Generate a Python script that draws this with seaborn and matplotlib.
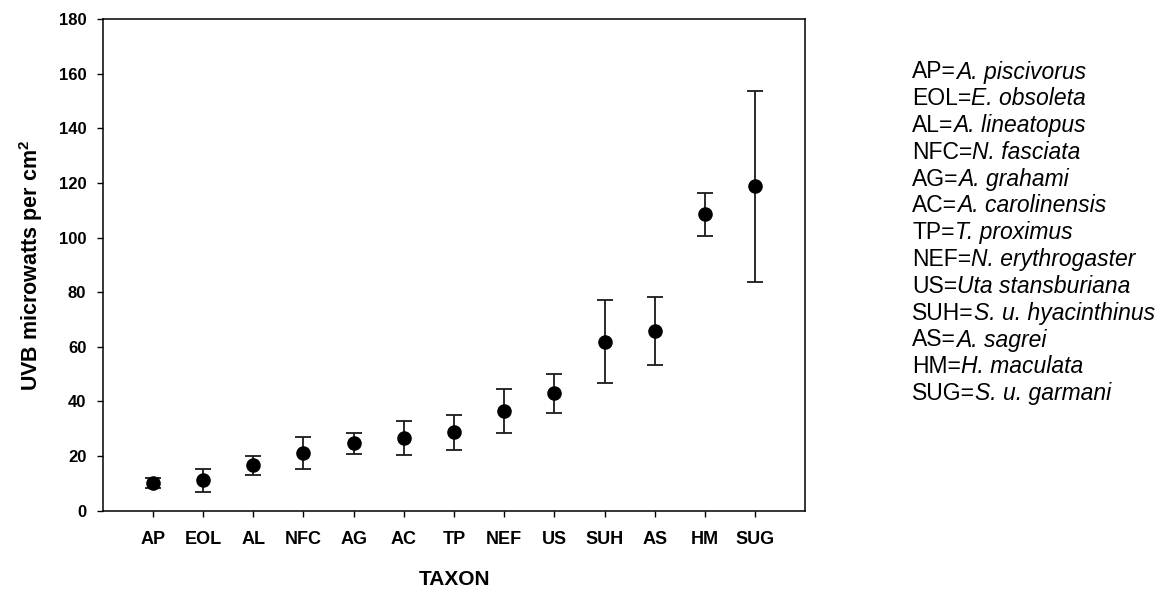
import numpy as np
import pandas as pd
import seaborn as sns
import matplotlib.pyplot as plt

taxa = ["AP", "EOL", "AL", "NFC", "AG", "AC", "TP", "NEF", "US", "SUH", "AS", "HM", "SUG"]
uvb_mean = [10.3, 11.2, 16.6, 21.3, 24.7, 26.8, 28.7, 36.6, 43.2, 61.9, 65.8, 108.7, 118.8]
uvb_upper = [12.1, 15.4, 20.1, 26.9, 28.4, 33.0, 35.2, 44.7, 50.2, 77.1, 78.1, 116.5, 153.6]
uvb_lower = [8.3, 7.0, 13.1, 15.4, 20.9, 20.5, 22.1, 28.4, 35.9, 46.6, 53.4, 100.7, 83.9]
species = ["A. piscivorus", "E. obsoleta", "A. lineatopus", "N. fasciata", "A. grahami",
           "A. carolinensis", "T. proximus", "N. erythrogaster", "Uta stansburiana",
           "S. u. hyacinthinus", "A. sagrei", "H. maculata", "S. u. garmani"]

df = pd.DataFrame({"taxon": taxa, "mean": uvb_mean, "upper": uvb_upper, "lower": uvb_lower})

sns.set_style("ticks")
plt.rcParams["font.family"] = ["Liberation Sans", "DejaVu Sans"]
plt.rcParams["text.color"] = "black"
plt.rcParams["axes.labelcolor"] = "black"
plt.rcParams["xtick.color"] = "black"
plt.rcParams["ytick.color"] = "black"
plt.rcParams["mathtext.fontset"] = "custom"
plt.rcParams["mathtext.rm"] = "Liberation Sans"
plt.rcParams["mathtext.bf"] = "Liberation Sans:bold"

fig = plt.figure(figsize=(11.74, 5.93), dpi=100)
ax = fig.add_axes([0.0875, 0.1388, 0.5985, 0.8287])

yerr = [df["mean"] - df["lower"], df["upper"] - df["mean"]]
ax.errorbar(df["taxon"], df["mean"], yerr=yerr, fmt="none", ecolor="#1a1a1a",
            elinewidth=1.3, capsize=5.5, capthick=1.3, zorder=2)
sns.scatterplot(data=df, x="taxon", y="mean", ax=ax, color="black", s=110,
                edgecolor="black", linewidth=0, zorder=3)

ax.set_xlim(-1, 13)
ax.set_ylim(0, 180)
ax.set_yticks(np.arange(0, 181, 20))
for s in ax.spines.values():
    s.set_visible(True)
    s.set_linewidth(1.1)
    s.set_color("black")
ax.tick_params(axis="both", direction="out", length=4.3, width=1, colors="black")
ax.tick_params(axis="x", pad=10)
ax.tick_params(axis="y", pad=7.5)
for lab in ax.get_yticklabels():
    lab.set_fontweight("bold")
    lab.set_fontsize(12)
for lab in ax.get_xticklabels():
    lab.set_fontweight("bold")
    lab.set_fontsize(13)

ax.set_xlabel("TAXON", fontsize=15, fontweight="bold", labelpad=16)
ax.set_ylabel(r"UVB microwatts per cm$^{\mathbf{2}}$", fontsize=15.5, fontweight="bold", labelpad=10)

# key of abbreviations: plain abbreviation, italic species name
renderer = fig.canvas.get_renderer()
x0 = 912 / 1174
top_px = 72
step_px = 26.8
for i, (t, sp) in enumerate(zip(taxa, species)):
    yf = 1 - (top_px + i * step_px) / 593
    t1 = fig.text(x0, yf, t + "=", fontsize=16.5, va="center", ha="left")
    w = t1.get_window_extent(renderer).width / fig.bbox.width
    fig.text(x0 + w, yf, sp, fontsize=16.5, style="italic", va="center", ha="left")

fig.savefig("out.png", dpi=100)
